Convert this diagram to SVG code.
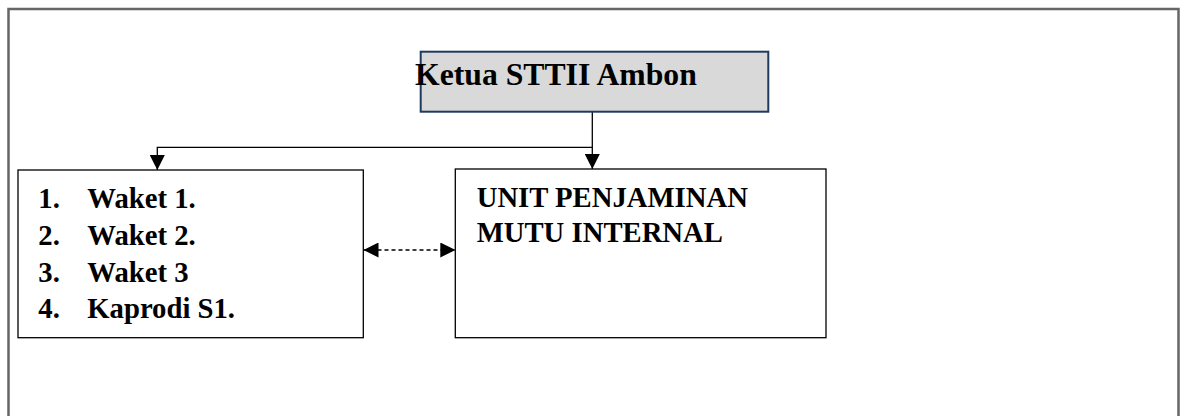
<svg xmlns="http://www.w3.org/2000/svg" width="1180" height="416" viewBox="0 0 1180 416">
<defs>
<style>
.box{fill:#fff;stroke:#000;stroke-width:1.3}
.t{font-family:"Liberation Serif","Times New Roman",serif;font-weight:bold;fill:#000}
.ln{fill:none;stroke:#000;stroke-width:1.3}
</style>
<marker id="ah" viewBox="0 0 10 10" refX="10" refY="5" markerWidth="15" markerHeight="15" markerUnits="userSpaceOnUse" orient="auto-start-reverse">
<path d="M0,0 L10,5 L0,10 Z" fill="#000"/>
</marker>
</defs>
<rect width="1180" height="416" fill="#fff"/>
<rect x="8.5" y="9" width="1170" height="420" fill="none" stroke="#666" stroke-width="2.5"/>
<g id="connectors">
<path class="ln" d="M592.3,112 V147.3 H157.3 V170" marker-end="url(#ah)"/>
<path class="ln" d="M592.3,147.3 V169" marker-end="url(#ah)"/>
<path class="ln" d="M363.5,250 H455.3" stroke-dasharray="4,3" marker-start="url(#ah)" marker-end="url(#ah)"/>
</g>
<g id="ketua">
<rect x="420.7" y="51.7" width="347.6" height="60" fill="#d9d9d9" stroke="#1f3a5f" stroke-width="2"/>
<text class="t" x="415" y="85" font-size="31.7">Ketua STTII Ambon</text>
</g>
<g id="waket">
<rect class="box" x="18" y="170" width="345.3" height="167.7"/>
<text class="t" font-size="28.7">
<tspan x="38.3" y="207.7">1.</tspan><tspan x="87.3" y="207.7">Waket 1.</tspan>
<tspan x="38.3" y="245">2.</tspan><tspan x="87.3" y="245">Waket 2.</tspan>
<tspan x="38.3" y="281.7">3.</tspan><tspan x="87.3" y="281.7">Waket 3</tspan>
<tspan x="38.3" y="318.3">4.</tspan><tspan x="87.3" y="318.3">Kaprodi S1.</tspan>
</text>
</g>
<g id="upmi">
<rect class="box" x="455.3" y="169" width="370.7" height="168.7"/>
<text class="t" font-size="28.7">
<tspan x="476.7" y="206.7">UNIT PENJAMINAN</tspan>
<tspan x="476.7" y="242.3">MUTU INTERNAL</tspan>
</text>
</g>
</svg>
